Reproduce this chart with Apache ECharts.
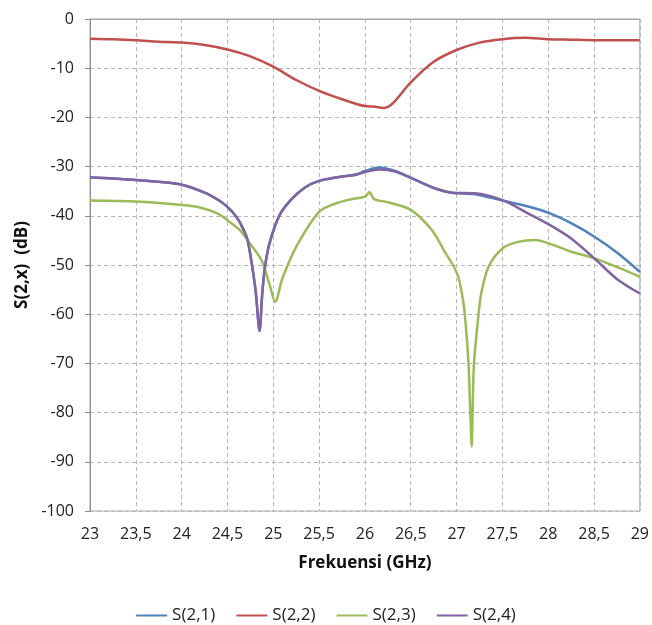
<!DOCTYPE html>
<html>
<head>
<meta charset="utf-8">
<script src="https://cdn.jsdelivr.net/npm/echarts@6/dist/echarts.min.js"></script>
<style>
  html, body { margin: 0; padding: 0; background: #fff; }
  #chart { width: 652px; height: 625px; }
</style>
</head>
<body>
<div id="chart"></div>
<script>
// Frequency axis ticks (GHz) and dB ticks
const xTicks = [23, 23.5, 24, 24.5, 25, 25.5, 26, 26.5, 27, 27.5, 28, 28.5, 29];
const yTicks = [0, -10, -20, -30, -40, -50, -60, -70, -80, -90, -100];

// S(2,1)
const freqS21 = [23, 23.25, 23.5, 23.75, 24, 24.25, 24.4, 24.5, 24.6, 24.67, 24.72, 24.77, 24.81, 24.85, 24.88, 24.91, 24.96, 25.07, 25.2, 25.35, 25.5, 25.72, 25.9, 26.0, 26.15, 26.33, 26.55, 26.76, 26.95, 27.2, 27.5, 27.78, 28.02, 28.25, 28.5, 28.76, 29];
const valS21  = [-32.2, -32.4, -32.7, -33.1, -33.7, -35.3, -36.8, -38.2, -40.3, -42.6, -45, -50.3, -55.7, -63.4, -55.7, -50.3, -45.5, -39.8, -36.6, -34.2, -32.9, -32.1, -31.6, -30.9, -30.2, -30.9, -32.7, -34.4, -35.3, -35.6, -36.9, -38.1, -39.5, -41.5, -44.2, -47.6, -51.4];

// S(2,2)
const freqS22 = [23, 23.25, 23.5, 23.75, 24, 24.25, 24.5, 24.75, 25, 25.25, 25.5, 25.75, 26, 26.1, 26.2, 26.3, 26.5, 26.75, 27, 27.25, 27.5, 27.75, 28, 28.25, 28.5, 28.75, 29];
const valS22  = [-4, -4.1, -4.3, -4.6, -4.8, -5.3, -6.2, -7.6, -9.7, -12.4, -14.6, -16.3, -17.7, -17.8, -18.1, -17.2, -12.9, -8.7, -6.3, -4.8, -4.1, -3.8, -4.1, -4.2, -4.3, -4.3, -4.3];

// S(2,3)
const freqS23 = [23, 23.5, 24, 24.2, 24.4, 24.52, 24.64, 24.74, 24.87, 24.96, 25.02, 25.1, 25.25, 25.5, 25.68, 25.86, 26.0, 26.05, 26.1, 26.26, 26.5, 26.73, 26.88, 26.96, 27.02, 27.06, 27.09, 27.13, 27.15, 27.165, 27.175, 27.19, 27.24, 27.27, 27.35, 27.51, 27.67, 27.86, 28.02, 28.25, 28.5, 28.76, 29];
const valS23  = [-36.9, -37.1, -37.8, -38.3, -39.6, -41.2, -43, -45.5, -49, -54, -57.5, -52.7, -46.3, -39.2, -37.5, -36.6, -36.1, -35.2, -36.6, -37.3, -38.8, -42.9, -47.6, -50, -52.5, -56, -60, -70, -80, -86.9, -80, -70, -60, -55.7, -50.3, -46.5, -45.3, -44.9, -45.7, -47.3, -48.6, -50.5, -52.4];

// S(2,4)
const freqS24 = [23, 23.25, 23.5, 23.75, 24, 24.25, 24.4, 24.5, 24.6, 24.67, 24.72, 24.77, 24.81, 24.85, 24.88, 24.91, 24.96, 25.07, 25.2, 25.35, 25.5, 25.72, 25.9, 26.0, 26.15, 26.33, 26.55, 26.76, 26.95, 27.2, 27.5, 27.78, 28.02, 28.25, 28.5, 28.76, 29];
const valS24  = [-32.2, -32.4, -32.7, -33.1, -33.7, -35.3, -36.8, -38.2, -40.3, -42.6, -45, -50.3, -55.7, -63.4, -55.7, -50.3, -45.5, -39.8, -36.6, -34.2, -32.9, -32.1, -31.7, -31.1, -30.6, -31, -32.7, -34.4, -35.3, -35.4, -36.8, -39.5, -41.9, -44.6, -48.6, -53, -55.8];

const seriesNames = ['S(2,1)', 'S(2,2)', 'S(2,3)', 'S(2,4)'];
const seriesColors = ['#4F81BD', '#C0504D', '#9BBB59', '#8064A2'];
const seriesFreq = [freqS21, freqS22, freqS23, freqS24];
const seriesVal = [valS21, valS22, valS23, valS24];

const FONT = '"Open Sans", "Noto Sans", sans-serif';
const fmt = v => String(v).replace('.', ',');

const chart = echarts.init(document.getElementById('chart'));
chart.setOption({
  animation: false,
  backgroundColor: '#fff',
  textStyle: { fontFamily: FONT },
  grid: {
    left: 90, right: 10, top: 19, bottom: 114,
    show: true, borderColor: '#a6a6a6', borderWidth: 1
  },
  legend: {
    data: seriesNames,
    top: 602,
    left: 'center',
    itemWidth: 31,
    itemHeight: 2,
    itemGap: 21,
    icon: 'rect',
    textStyle: { fontFamily: FONT, fontSize: 17, color: '#222' }
  },
  xAxis: {
    type: 'value',
    min: xTicks[0],
    max: xTicks[xTicks.length - 1],
    interval: 0.5,
    name: 'Frekuensi (GHz)',
    nameLocation: 'middle',
    nameGap: 44,
    nameTextStyle: { fontFamily: FONT, fontSize: 17, fontWeight: 'bold', color: '#111' },
    axisLine: { show: true, lineStyle: { color: '#a6a6a6', width: 1 } },
    axisTick: { show: false },
    axisLabel: { fontSize: 16, color: '#222', margin: 15, formatter: fmt },
    splitLine: { show: true, lineStyle: { color: '#b8b8b8', type: [4, 3], width: 1 } }
  },
  yAxis: {
    type: 'value',
    min: yTicks[yTicks.length - 1],
    max: yTicks[0],
    interval: 10,
    name: 'S(2,x)  (dB)',
    nameLocation: 'middle',
    nameGap: 55,
    nameRotate: 90,
    nameTextStyle: { fontFamily: FONT, fontSize: 17, fontWeight: 'bold', color: '#111' },
    axisLine: { show: true, lineStyle: { color: '#8c8c8c', width: 1 } },
    axisTick: { show: true, length: 5, lineStyle: { color: '#8c8c8c' } },
    axisLabel: { fontSize: 16, color: '#222', margin: 16 },
    splitLine: { show: true, lineStyle: { color: '#b8b8b8', type: [4, 3], width: 1 } }
  },
  series: seriesNames.map((name, i) => ({
    name,
    type: 'line',
    data: seriesFreq[i].map((f, j) => [f, seriesVal[i][j]]),
    showSymbol: false,
    smooth: 0.3,
    color: seriesColors[i],
    lineStyle: { width: 2.5, color: seriesColors[i] },
    z: 2 + i
  }))
});
</script>
</body>
</html>
